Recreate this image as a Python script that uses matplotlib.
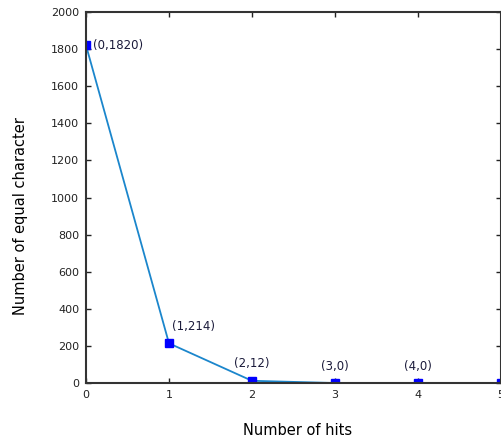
import matplotlib.pyplot as plt

# data
hits = [0, 1, 2, 3, 4, 5]
equal_chars = [1820, 214, 12, 0, 0, 0]
labels = ["(0,1820)", "(1,214)", "(2,12)", "(3,0)", "(4,0)"]
# label offsets in pixels (dx, dy) and alignment
offsets = [(7, 0, 'left'), (3, 17, 'left'), (0, 17, 'center'), (0, 17, 'center'), (0, 17, 'center')]

plt.rcParams['font.family'] = ['DejaVu Sans']

fig = plt.figure(figsize=(5.01, 4.43), dpi=100)
ax = fig.add_axes([0.1717, 0.1354, 0.828, 0.8375])

ax.plot(hits, equal_chars, color='#1b86cc', linewidth=1.3,
        marker='s', markersize=5.5, markerfacecolor='#0000ff', markeredgecolor='#0000ff')

for x, y, lab, (dx, dy, ha) in zip(hits, equal_chars, labels, offsets):
    ax.annotate(lab, (x, y), xytext=(dx, dy), textcoords='offset pixels',
                ha=ha, va='center', fontsize=8.5, color='#1a1a3a')

ax.set_xlim(0, 5)
ax.set_ylim(0, 2000)
ax.set_xticks(range(0, 6))
ax.set_yticks(range(0, 2001, 200))
ax.tick_params(direction='in', top=True, right=True, labelsize=8, length=3.5, width=1, pad=5, colors='#222222')
for s in ax.spines.values():
    s.set_linewidth(1.5)
    s.set_color('#333333')

ax.set_xlabel("Number of hits", fontsize=10.5)
ax.xaxis.set_label_coords(0.51, -0.127)
ax.xaxis.label.set_va('center')
ax.set_ylabel("Number of equal character", fontsize=10.5)
ax.yaxis.set_label_coords(-0.159, 0.45)
ax.yaxis.label.set_va('center')

fig.savefig("out.png", dpi=100)
